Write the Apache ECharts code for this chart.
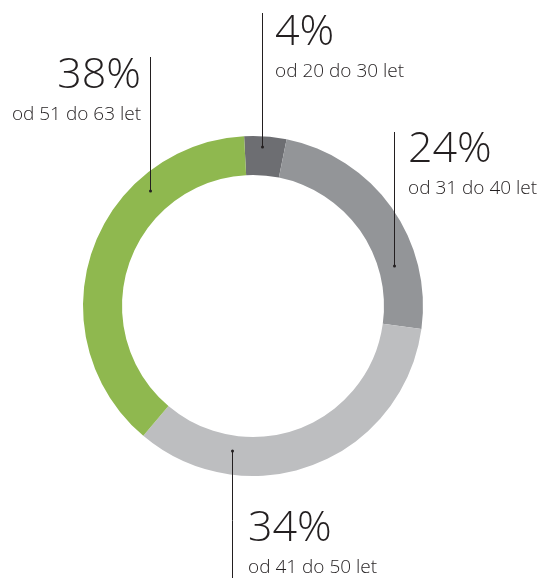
<!DOCTYPE html>
<html>
<head>
<meta charset="utf-8">
<script src="https://cdn.jsdelivr.net/npm/echarts@6/dist/echarts.min.js"></script>
<style>
  html, body { margin: 0; padding: 0; background: #fff; }
  #chart { width: 539px; height: 578px; }
</style>
</head>
<body>
<div id="chart"></div>
<script>
const categories = ['od 20 do 30 let', 'od 31 do 40 let', 'od 41 do 50 let', 'od 51 do 63 let']
const values = [4, 24, 34, 38]
const colors = ['#6d6e72', '#939598', '#bdbec0', '#8fb84f']

// label placement: vertical leader line at lineX from dotY (in the ring) to lineEnd
const labelPlaces = [
    { lineX: 262.5, dotY: 147, lineEnd: 13, textX: 275, textY: 9, align: 'left' },
    { lineX: 394.5, dotY: 266, lineEnd: 132, textX: 408, textY: 126, align: 'left' },
    { lineX: 232.5, dotY: 451, lineEnd: 590, textX: 248, textY: 505, align: 'left' },
    { lineX: 150.5, dotY: 191, lineEnd: 57, textX: 141, textY: 52, align: 'right' }
]

const textColor = '#231f20'
const fontFamily = '"Open Sans", "Noto Sans", sans-serif'

const myChart = echarts.init(document.getElementById('chart'))

const ring = {
    type: 'pie',
    center: [253, 306],
    radius: [131, 170],
    startAngle: 93,
    clockwise: true,
    avoidLabelOverlap: false,
    emphasis: { disabled: true },
    itemStyle: { borderWidth: 0 }
}

// overlay series: same sectors, invisible, only used to carry labels above the ring
const overlay = Object.assign({}, ring, {
    silent: true,
    data: values.map((v, i) => ({ name: categories[i], value: v })),
    itemStyle: { color: 'rgba(0,0,0,0)', borderWidth: 0 }
})

myChart.setOption({
    animation: false,
    series: [
        Object.assign({}, ring, {
            z: 1,
            data: values.map((v, i) => ({
                name: categories[i],
                value: v,
                itemStyle: { color: colors[i] }
            })),
            label: { show: false },
            labelLine: { show: false }
        }),
        Object.assign({}, overlay, {
            z: 5,
            label: {
                show: true,
                position: 'outside',
                formatter: p => '{big|' + p.value + '%}\n{sub|' + p.name + '}',
                rich: {
                    big: {
                        fontFamily: fontFamily,
                        fontWeight: 300,
                        fontSize: 43,
                        lineHeight: 48,
                        color: textColor
                    },
                    sub: {
                        fontFamily: fontFamily,
                        fontWeight: 300,
                        fontSize: 19,
                        lineHeight: 30,
                        color: textColor
                    }
                }
            },
            labelLine: {
                show: true,
                lineStyle: { color: textColor, width: 1 }
            },
            labelLayout: function (params) {
                const s = labelPlaces[params.dataIndex]
                return {
                    x: s.textX,
                    y: s.textY,
                    align: s.align,
                    verticalAlign: 'top',
                    labelLinePoints: [
                        [s.lineX, s.dotY],
                        [s.lineX, (s.dotY + s.lineEnd) / 2],
                        [s.lineX, s.lineEnd]
                    ]
                }
            }
        }),
        // small dots at the inner end of each leader line
        Object.assign({}, overlay, {
            z: 6,
            label: {
                show: true,
                position: 'outside',
                formatter: '{d|}',
                rich: {
                    d: { width: 3, height: 3, borderRadius: 1.5, backgroundColor: textColor }
                }
            },
            labelLine: { show: false },
            labelLayout: function (params) {
                const s = labelPlaces[params.dataIndex]
                return { x: s.lineX, y: s.dotY, align: 'center', verticalAlign: 'middle' }
            }
        })
    ]
})
</script>
</body>
</html>
